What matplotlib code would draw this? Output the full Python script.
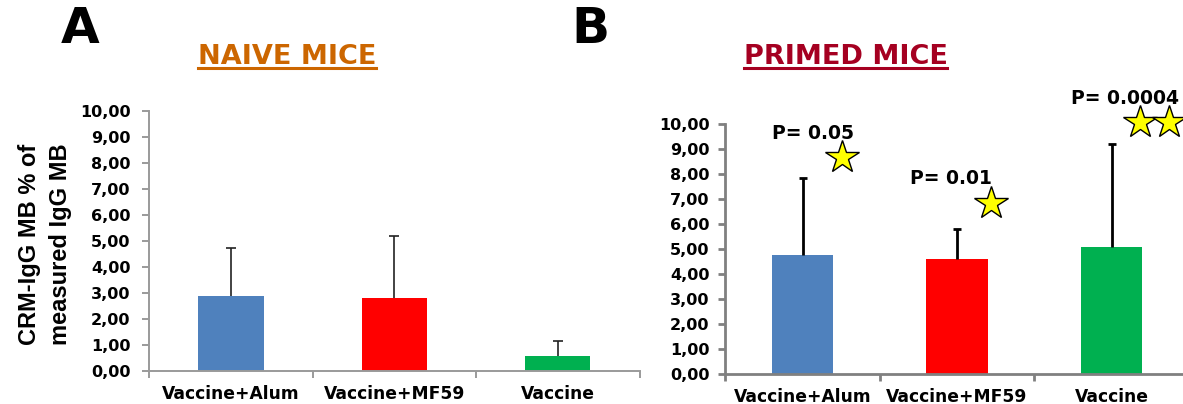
import matplotlib
matplotlib.use("Agg")
import matplotlib.pyplot as plt
from matplotlib.lines import Line2D

# ---------------- data ----------------
categories = ["Vaccine+Alum", "Vaccine+MF59", "Vaccine"]
naive_values = [2.87, 2.80, 0.57]
naive_errors = [1.84, 2.37, 0.57]
primed_values = [4.76, 4.60, 5.08]
primed_errors = [3.07, 1.21, 4.14]
bar_colors = ["#4F81BD", "#FF0000", "#00B050"]
yticks = [0, 1, 2, 3, 4, 5, 6, 7, 8, 9, 10]
ytick_labels = ["0,00", "1,00", "2,00", "3,00", "4,00", "5,00",
                "6,00", "7,00", "8,00", "9,00", "10,00"]
p_labels = ["P= 0.05", "P= 0.01", "P= 0.0004"]
p_x = [0.07, 0.962, 2.085]
p_y = [9.64, 7.81, 11.04]
star_x = [0.253, 1.22, 2.184, 2.374]
star_y = [8.68, 6.83, 10.08, 10.08]

W, H = 1183, 404
fig = plt.figure(figsize=(W / 100, H / 100), dpi=100)
FONT = "DejaVu Sans"


def fx(px):
    return px / W


def fy(py):
    return 1 - py / H


axA = fig.add_axes([fx(149.3), fy(370.7), (639.5 - 149.3) / W, (370.7 - 110.7) / H])
axB = fig.add_axes([fx(725.3), fy(373.7), 463.5 / W, (373.7 - 124.3) / H])


def style(ax, vals, errs, spine_col, spine_w, err_col, err_w, cap_ms, pad):
    x = list(range(len(categories)))
    ax.bar(x, vals, width=0.40, color=bar_colors, zorder=2)
    tops = [v + e for v, e in zip(vals, errs)]
    ax.vlines(x, vals, tops, colors=err_col, linewidth=err_w, zorder=3)
    ax.plot(x, tops, linestyle="none", marker="_", markersize=cap_ms,
            markeredgewidth=err_w, color=err_col, zorder=3)
    ax.set_xlim(-0.5, 2.5)
    ax.set_ylim(0, 10)
    ax.set_yticks(yticks)
    ax.set_yticklabels(ytick_labels, fontfamily=FONT, fontweight="bold", fontsize=11.5)
    ax.set_xticks([-0.5, 0.5, 1.5, 2.5])
    ax.set_xticklabels([])
    ax.set_xticks(x, minor=True)
    ax.set_xticklabels(categories, minor=True, fontfamily=FONT, fontweight="bold", fontsize=12.3)
    ax.tick_params(axis="x", which="minor", length=0, pad=10)
    ax.tick_params(axis="x", which="major", length=5, width=spine_w, color=spine_col, direction="out")
    ax.tick_params(axis="y", length=5, width=spine_w, color=spine_col, direction="out", pad=pad)
    for s in ["top", "right"]:
        ax.spines[s].set_visible(False)
    for s in ["left", "bottom"]:
        ax.spines[s].set_color(spine_col)
        ax.spines[s].set_linewidth(spine_w)
    ax.set_facecolor("none")


style(axA, naive_values, naive_errors, "#9A9A9A", 1.4, "#222222", 1.2, 7, 8.5)
style(axB, primed_values, primed_errors, "#808080", 2.0, "#000000", 2.0, 5.5, 6.5)

# p-values and stars
for lbl, x, y in zip(p_labels, p_x, p_y):
    axB.text(x, y, lbl, ha="center", va="center", fontfamily=FONT,
             fontweight="bold", fontsize=13.5, clip_on=False)
axB.plot(star_x, star_y, linestyle="none", marker="*", markersize=25,
         markerfacecolor="#FFFF00", markeredgecolor="#000000", markeredgewidth=1.0,
         clip_on=False, zorder=5)

# panel letters
fig.text(fx(80), fy(29), "A", ha="center", va="center", fontfamily=FONT,
         fontweight="bold", fontsize=36)
fig.text(fx(590), fy(29), "B", ha="center", va="center", fontfamily=FONT,
         fontweight="bold", fontsize=36)

# underlined titles
titles = [("NAIVE MICE", 287, "#CC6600"), ("PRIMED MICE", 845.5, "#A50021")]
fig.canvas.draw()
renderer = fig.canvas.get_renderer()
for txt, cx, col in titles:
    t = fig.text(fx(cx), fy(63.5), txt, ha="center", va="baseline", fontfamily=FONT,
                 fontweight="bold", fontsize=19.5, color=col)
    bb = t.get_window_extent(renderer=renderer)
    fig.add_artist(Line2D([bb.x0 / W, bb.x1 / W], [fy(67.5), fy(67.5)],
                          transform=fig.transFigure, color=col, linewidth=2.2))

# y label (two lines, rotated)
fig.text(fx(45), fy(244), "CRM-IgG MB % of\nmeasured IgG MB", rotation=90,
         ha="center", va="center", multialignment="center",
         family=["Liberation Sans"], fontweight="bold",
         fontsize=17, linespacing=1.45)

fig.savefig("out.png", dpi=100)
